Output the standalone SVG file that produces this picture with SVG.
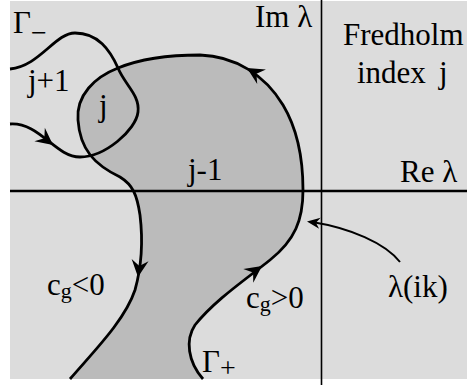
<svg xmlns="http://www.w3.org/2000/svg" width="467" height="385" viewBox="0 0 467 385">
<style>
text { font-family: "Liberation Serif", "Times New Roman", serif; font-size: 31px; fill: #000; }
.curve { fill: none; stroke: #000; stroke-width: 2.8; }
.arrow { fill: #000; stroke: none; }
</style>
<defs>
<path id="ah" d="M0,0 L-17,-8.5 L-11,0 L-17,8.5 Z"/>
<path id="ahs" d="M0,0 L-13,-5.5 L-9,0 L-13,5.5 Z"/>
</defs>
<g id="background">
<rect x="10" y="1" width="457" height="378" fill="#dcdcdc"/>
<path id="region-dark" d="M70,379 C95,350 125,320 135,290 C142,265 143,240 140,215 C137,195 133,185 120,177 C95,165 80,150 78,120 C76,95 95,77 118,68 C140,59 170,55 200,55 C235,56 265,75 283,105 C298,130 303,160 303,190 C303,220 295,240 270,260 C245,280 215,300 195,325 C185,340 188,362 203,379 Z" fill="#bbbbbb"/>
</g>
<g id="axes">
<line x1="10" y1="191" x2="467" y2="191" stroke="#000" stroke-width="2.5"/>
<line x1="321.5" y1="0" x2="321.5" y2="385" stroke="#000" stroke-width="1.6"/>
</g>
<g id="connectors">
<g id="gamma-plus">
<path class="curve" d="M70,379 C95,350 125,320 135,290 C142,265 143,240 140,215 C137,195 133,185 120,177 C95,165 80,150 78,120 C76,95 95,77 118,68 C140,59 170,55 200,55 C235,56 265,75 283,105 C298,130 303,160 303,190 C303,220 295,240 270,260 C245,280 215,300 195,325 C185,340 188,362 203,379"/>
<use href="#ah" class="arrow" transform="translate(138,277) rotate(97)"/>
<use href="#ah" class="arrow" transform="translate(262,266) rotate(-36)"/>
<use href="#ah" class="arrow" transform="translate(247,68) rotate(-149)"/>
</g>
<g id="gamma-minus">
<path class="curve" d="M10,124 C40,122 55,157 80,157 C105,157 136,130 138,112 C140,95 125,85 118,68 C110,50 98,33 75,33 C55,33 40,66 10,69"/>
<use href="#ah" class="arrow" transform="translate(53,145) rotate(38)"/>
</g>
<g id="lambda-pointer">
<path fill="none" stroke="#000" stroke-width="2" d="M400,262 C385,243 350,228 312,222"/>
<use href="#ahs" class="arrow" transform="translate(307,221.5) rotate(188)"/>
</g>
</g>
<g id="labels">
<g id="label-gamma-minus"><text x="13" y="33">Γ<tspan font-size="28" dy="9">−</tspan></text></g>
<g id="label-im"><text x="255" y="27" font-size="30">Im λ</text></g>
<g id="label-fredholm"><text x="343" y="45">Fredholm</text><text x="357" y="83">index <tspan x="439">j</tspan></text></g>
<g id="label-re"><text x="400" y="182">Re λ</text></g>
<g id="label-jp1"><text x="28" y="91">j+1</text></g>
<g id="label-j"><text x="99" y="116">j</text></g>
<g id="label-jm1"><text x="188" y="180">j-1</text></g>
<g id="label-cg-neg"><text x="47" y="295">c<tspan font-size="22" dy="3">g</tspan><tspan dy="-3">&lt;0</tspan></text></g>
<g id="label-cg-pos"><text x="246" y="308">c<tspan font-size="22" dy="3">g</tspan><tspan dy="-3">&gt;0</tspan></text></g>
<g id="label-lambda-ik"><text x="388" y="297">λ(ik)</text></g>
<g id="label-gamma-plus"><text x="202" y="372">Γ<tspan font-size="28" dy="5">+</tspan></text></g>
</g>
</svg>
